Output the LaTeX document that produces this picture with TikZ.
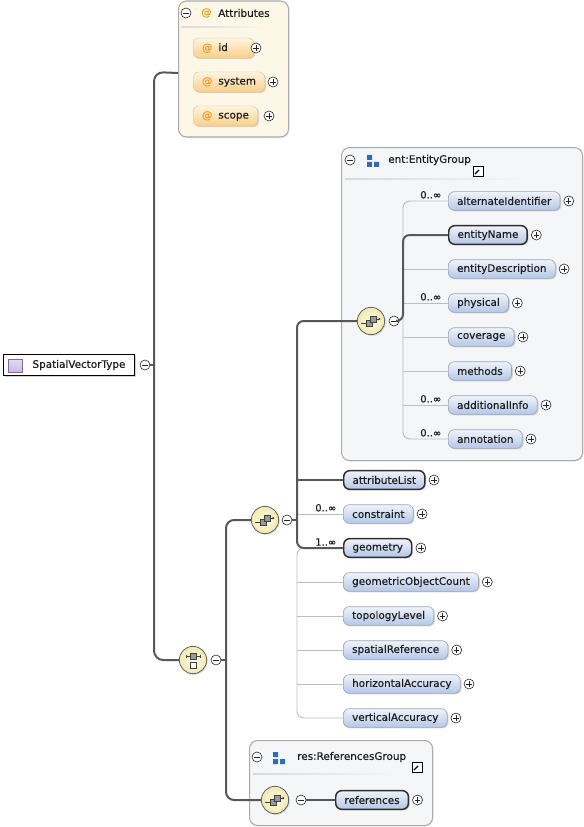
\documentclass[tikz,border=0pt]{standalone}
\usepackage{fontspec}
\setmainfont{DejaVu Sans}[FakeBold=0.45]
\usetikzlibrary{shadows}
\definecolor{txt}{HTML}{1E1E1E}
\definecolor{eltop}{HTML}{F0F4FB}
\definecolor{elbot}{HTML}{B3C7E8}
\definecolor{reqb}{HTML}{2E2E2E}
\definecolor{optb}{HTML}{9DA6B3}
\definecolor{attop}{HTML}{FFF5E2}
\definecolor{atbot}{HTML}{F9CF88}
\definecolor{atbord}{HTML}{E2C08A}
\definecolor{atorange}{HTML}{F09A1E}
\definecolor{atfill}{HTML}{FDF7E8}
\definecolor{grpfill}{HTML}{F5F6F8}
\definecolor{cbord}{HTML}{ABABAB}
\definecolor{seqin}{HTML}{FFFDE9}
\definecolor{seqout}{HTML}{F1E9AE}
\definecolor{dkline}{HTML}{575757}
\definecolor{ltline}{HTML}{BDBDBD}
\definecolor{grpblue}{HTML}{2F6DB5}
\definecolor{purp}{HTML}{C9B9E3}
\definecolor{purpb}{HTML}{7D6A9E}
\newcommand{\elfont}{\fontsize{7.8pt}{9pt}\selectfont}
\newcommand{\cardfont}{\fontsize{7.5pt}{8.5pt}\selectfont}
\newcommand{\seqicon}[1]{\begin{scope}[shift={(#1.center)}]
 \draw[black!75, line width=0.5pt] (-9,2.5) -- (-5,2.5);
 \fill[black!75] (-9,2.5) circle (0.7pt);
 \draw[black!75, line width=0.5pt, fill=black!40] (-5,-0.5) rectangle (1,5.5);
 \draw[black!75, line width=0.5pt, fill=black!40] (-1,-5) rectangle (5,1);
 \draw[black!75, line width=0.5pt] (5,-2) -- (8.5,-2);
 \fill[black!75] (9.5,-2) -- (7.5,-3.5) -- (7.5,-0.5) -- cycle;
\end{scope}}
\newcommand{\topicon}[1]{\begin{scope}[shift={(#1.center)}]
 \draw[black!75, line width=0.5pt] (-7,-4) -- (7,-4) (-7,-5.5) -- (-7,-2.5) (7,-5.5) -- (7,-2.5);
 \draw[black!75, line width=0.5pt, fill=black!40] (-3,-7) rectangle (3,-1);
 \draw[black!75, line width=0.5pt, fill=white] (-3,2) rectangle (3,8);
\end{scope}}
\newcommand{\grpicon}[2]{\fill[grpblue] (#1,#2-5) rectangle (#1+5,#2) (#1,#2+2) rectangle (#1+5,#2+7) (#1+7,#2+2) rectangle (#1+12,#2+7);}
\tikzset{
 lbl/.style={font=\elfont, text=txt},
 elem/.style={lbl, anchor=west, rounded corners=4.5pt, minimum height=14pt, inner xsep=6.6pt, inner ysep=0pt, top color=eltop, bottom color=elbot, drop shadow={shadow xshift=1pt, shadow yshift=-0.8pt, opacity=0.3}},
 req/.style={elem, draw=reqb, line width=1.1pt},
 opt/.style={elem, draw=optb, line width=0.5pt},
 attr/.style={lbl, anchor=west, rounded corners=4.5pt, minimum height=15pt, inner xsep=6.6pt, inner ysep=0pt, top color=attop, bottom color=atbot, draw=atbord, line width=0.3pt, drop shadow={shadow xshift=1pt, shadow yshift=-0.8pt, opacity=0.3}},
 pm/.style={circle, draw=black!85, line width=0.45pt, fill=white, minimum size=7.5pt, inner sep=0pt},
 plusc/.style={pm, path picture={\draw[line width=0.5pt] ([xshift=-2pt]path picture bounding box.center) -- ([xshift=2pt]path picture bounding box.center) ([yshift=-2pt]path picture bounding box.center) -- ([yshift=2pt]path picture bounding box.center);}},
 minusc/.style={pm, path picture={\draw[line width=0.5pt] ([xshift=-2pt]path picture bounding box.center) -- ([xshift=2pt]path picture bounding box.center);}},
 seqn/.style={circle, minimum size=20.5pt, inner sep=0pt, draw=black!60, line width=0.6pt, inner color=seqin, outer color=seqout, drop shadow={shadow xshift=0.8pt, shadow yshift=-0.8pt, opacity=0.3}},
 cont/.style={anchor=north west, draw=cbord, line width=0.8pt, rounded corners=6pt, inner sep=0pt, drop shadow={shadow xshift=0.8pt, shadow yshift=-0.8pt, opacity=0.15}},
 card/.style={font=\cardfont, text=txt, anchor=south east, inner sep=0.8pt},
 hdr/.style={lbl, anchor=west, inner sep=0pt},
 dk/.style={draw=dkline, line width=1.5pt},
 lt/.style={draw=ltline, line width=0.7pt},
 linkic/.style={draw=black, line width=0.6pt, fill=white, minimum size=7.5pt, inner sep=0pt, path picture={
   \draw[line width=1pt] ([shift={(-2.2pt,-2.2pt)}]path picture bounding box.center) -- ([shift={(1pt,1pt)}]path picture bounding box.center);
   \fill ([shift={(2.6pt,2.6pt)}]path picture bounding box.center) -- ([shift={(-1pt,2.6pt)}]path picture bounding box.center) -- ([shift={(2.6pt,-1pt)}]path picture bounding box.center) -- cycle;}},
 rootbox/.style={lbl, anchor=west, draw=black, line width=0.8pt, fill=white, minimum height=15.75pt, inner xsep=6.75pt, inner ysep=0pt, drop shadow={shadow xshift=1.2pt, shadow yshift=-1pt, opacity=0.35}},
}
\begin{document}
\begin{tikzpicture}[x=0.75pt,y=-0.75pt]
\useasboundingbox (0,0) rectangle (584,827);
% containers
\node[cont, fill=atfill, minimum width=82.5pt, minimum height=102pt] (attrs) at (178,0.5) {};
\node[cont, fill=grpfill, minimum width=180.75pt, minimum height=234.75pt] (entbox) at (341,147) {};
\node[cont, fill=grpfill, minimum width=137.25pt, minimum height=63.75pt] (resbox) at (249,740) {};
% attributes header
\node[minusc] (mAt) at (186,13) {};
\node[hdr, text=atorange] (atI) at (201,13) {@};
\node[hdr] (atT) at (218,13) {Attributes};
\shade[left color=black!15, right color=atfill] (181,26.3) rectangle (265,27.8);
\node[attr] (aid) at (193,48) {{\color{atorange}@}\hspace{4.5pt}id\hspace*{13pt}};
\node[plusc] (paid) at (256,48) {};
\node[attr] (asys) at (193,82) {{\color{atorange}@}\hspace{4.5pt}system};
\node[plusc] (pasys) at (273,82) {};
\node[attr] (asco) at (193,116) {{\color{atorange}@}\hspace{4.5pt}scope};
\node[plusc] (pasco) at (269,116) {};
% root
\node[rootbox] (root) at (3,365) {\hspace*{15pt}SpatialVectorType};
\draw[draw=purpb, line width=0.5pt, top color=purp!50, bottom color=purp] (8,359) rectangle (22,372);
\node[minusc] (m0) at (145,365) {};
% top sequence
\node[seqn] (seqA) at (193,660) {};
\topicon{seqA}
\node[minusc] (mA) at (216,660) {};
% inner sequence
\node[seqn] (seqB) at (265,520) {};
\seqicon{seqB}
\node[minusc] (mB) at (287,520) {};
% entity group
\node[minusc] (mEh) at (350,160) {};
\grpicon{367}{160}
\node[hdr] (entT) at (388,160) {ent:EntityGroup};
\node[linkic] (entL) at (478,171) {};
\shade[left color=black!15, right color=grpfill] (345,178.3) rectangle (525,179.8);
\node[seqn] (seqE) at (371,321) {};
\seqicon{seqE}
\node[minusc] (mE) at (394,321) {};
\node[opt] (alt) at (448,201) {alternateIdentifier};
\node[plusc] (palt) at ([xshift=6.3pt]alt.east) {};
\node[card] (calt) at ([xshift=-4pt,yshift=0.8pt]alt.west) {0..∞};
\node[req] (ename) at (448,235) {entityName};
\node[plusc] (pename) at ([xshift=6.3pt]ename.east) {};
\node[opt] (edesc) at (448,269) {entityDescription};
\node[plusc] (pedesc) at ([xshift=6.3pt]edesc.east) {};
\node[opt] (phys) at (448,303) {physical};
\node[plusc] (pphys) at ([xshift=6.3pt]phys.east) {};
\node[card] (cphys) at ([xshift=-4pt,yshift=0.8pt]phys.west) {0..∞};
\node[opt] (cov) at (448,337) {coverage};
\node[plusc] (pcov) at ([xshift=6.3pt]cov.east) {};
\node[opt] (meth) at (448,371) {methods};
\node[plusc] (pmeth) at ([xshift=6.3pt]meth.east) {};
\node[opt] (addi) at (448,405) {additionalInfo};
\node[plusc] (paddi) at ([xshift=6.3pt]addi.east) {};
\node[card] (caddi) at ([xshift=-4pt,yshift=0.8pt]addi.west) {0..∞};
\node[opt] (annot) at (448,439) {annotation};
\node[plusc] (pannot) at ([xshift=6.3pt]annot.east) {};
\node[card] (cannot) at ([xshift=-4pt,yshift=0.8pt]annot.west) {0..∞};
% sequence B children
\node[req] (attl) at (343,480) {attributeList};
\node[plusc] (pattl) at ([xshift=6.3pt]attl.east) {};
\node[opt] (constr) at (343,514) {constraint};
\node[plusc] (pconstr) at ([xshift=6.3pt]constr.east) {};
\node[card] (cconstr) at ([xshift=-4pt,yshift=0.8pt]constr.west) {0..∞};
\node[req] (geom) at (343,548) {geometry};
\node[plusc] (pgeom) at ([xshift=6.3pt]geom.east) {};
\node[card] (cgeom) at ([xshift=-4pt,yshift=0.8pt]geom.west) {1..∞};
\node[opt] (goc) at (343,582) {geometricObjectCount};
\node[plusc] (pgoc) at ([xshift=6.3pt]goc.east) {};
\node[opt] (topo) at (343,616) {topologyLevel};
\node[plusc] (ptopo) at ([xshift=6.3pt]topo.east) {};
\node[opt] (sref) at (343,650) {spatialReference};
\node[plusc] (psref) at ([xshift=6.3pt]sref.east) {};
\node[opt] (hacc) at (343,684) {horizontalAccuracy};
\node[plusc] (phacc) at ([xshift=6.3pt]hacc.east) {};
\node[opt] (vacc) at (343,718) {verticalAccuracy};
\node[plusc] (pvacc) at ([xshift=6.3pt]vacc.east) {};
% references group
\node[minusc] (mRh) at (257,757) {};
\grpicon{273}{757}
\node[hdr] (resT) at (297,757) {res:ReferencesGroup};
\node[linkic] (resL) at (417,767) {};
\shade[left color=black!15, right color=grpfill] (253,773.3) rectangle (395,774.8);
\node[seqn] (seqR) at (275,800) {};
\seqicon{seqR}
\node[minusc] (mR) at (301,800) {};
\node[req] (refs) at (335,800) {references};
\node[plusc] (prefs) at ([xshift=6.3pt]refs.east) {};
% connectors: light
\draw[lt, rounded corners=5pt] (alt.west) -- (403,201) -- (403,439) -- (annot.west);
\draw[lt] (edesc.west) -- ++(-45,0);
\draw[lt] (phys.west) -- ++(-45,0);
\draw[lt] (cov.west) -- ++(-45,0);
\draw[lt] (meth.west) -- ++(-45,0);
\draw[lt] (addi.west) -- ++(-45,0);
\draw[lt, rounded corners=5pt] (geom.west) -- (297,548) -- (297,718) -- (vacc.west);
\draw[lt] (constr.west) -- ++(-46,0);
\draw[lt] (goc.west) -- ++(-46,0);
\draw[lt] (topo.west) -- ++(-46,0);
\draw[lt] (sref.west) -- ++(-46,0);
\draw[lt] (hacc.west) -- ++(-46,0);
% connectors: dark
\draw[dk, rounded corners=5pt] (ename.west) -- (403,235) -- (403,321) -- (mE.east);
\draw[dk, rounded corners=5pt] (seqE.west) -- (297,321) -- (297,548) -- (geom.west);
\draw[dk] (attl.west) -- ++(-46,0);
\draw[dk] (mB.east) -- (297,520);
\draw[dk, rounded corners=6pt] (seqB.west) -- (226,520) -- (226,800) -- (seqR.west);
\draw[dk] (mA.east) -- (226,660);
\draw[dk] (mR.east) -- (refs.west);
\draw[dk, rounded corners=7pt] ([yshift=-3pt]attrs.west) -- (154,72) -- (154,660) -- (seqA.west);
\draw[dk] (m0.east) -- (154,365);
\end{tikzpicture}
\end{document}
